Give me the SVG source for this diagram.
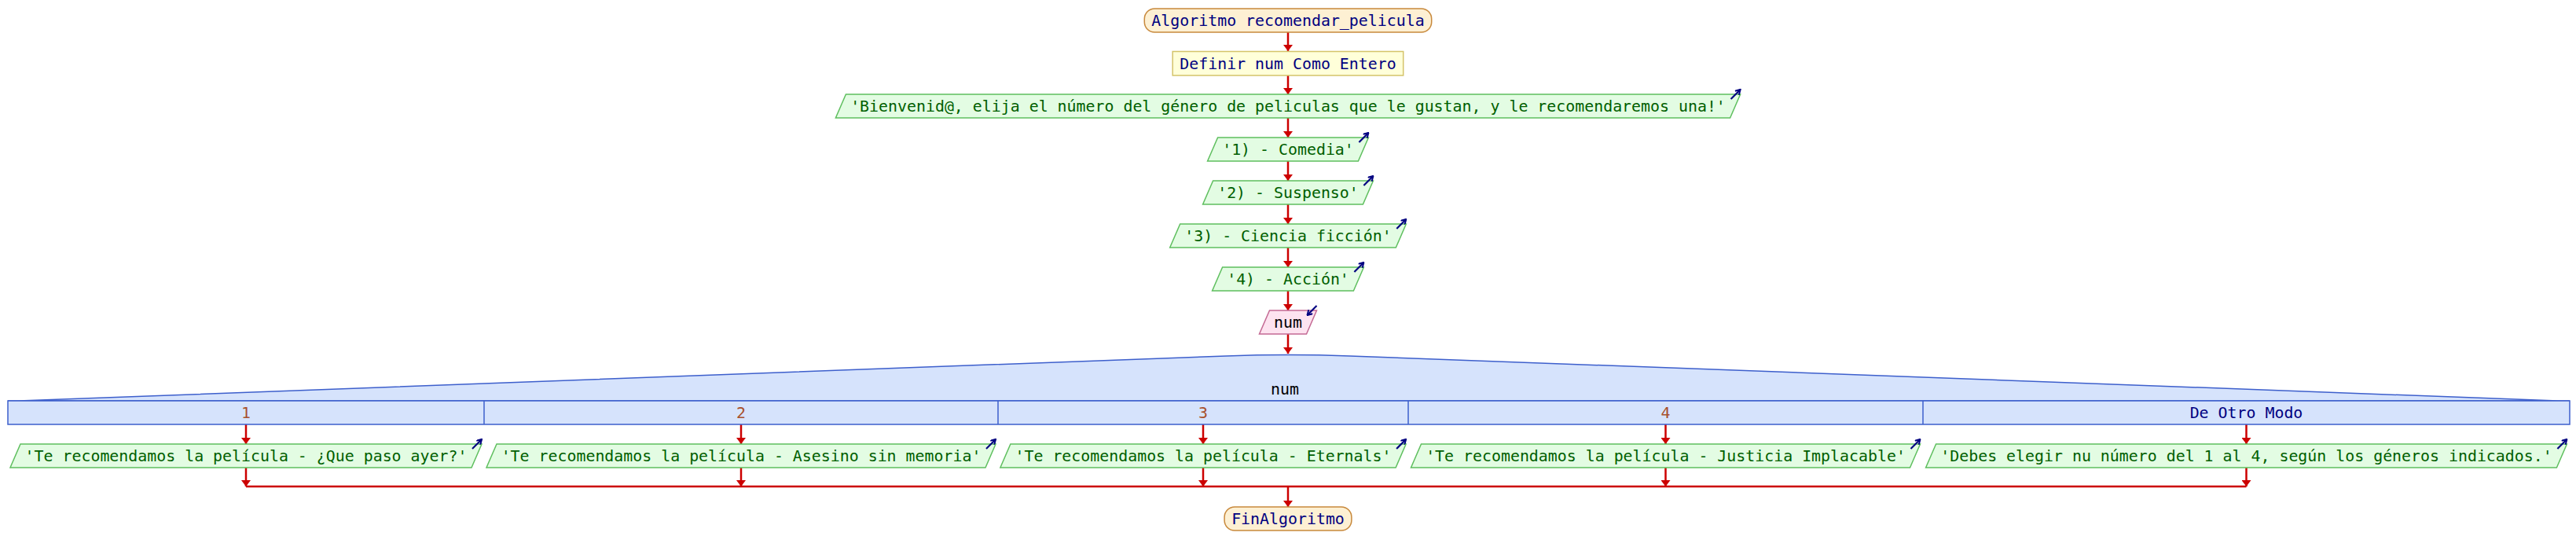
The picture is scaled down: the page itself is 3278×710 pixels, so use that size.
<svg xmlns="http://www.w3.org/2000/svg" width="3278" height="710" viewBox="0 0 3278 710">
<defs>
<marker id="ah" viewBox="0 0 8 12" refX="8" refY="6" markerWidth="8" markerHeight="12" markerUnits="userSpaceOnUse" orient="auto"><path d="M0,0 L8,6 L0,12 z" fill="#cc0000"/></marker>
<marker id="io" viewBox="0 0 8 8" refX="7" refY="4" markerWidth="8" markerHeight="8" markerUnits="userSpaceOnUse" orient="auto"><path d="M1,0.5 L7,4 L1,7.5" fill="none" stroke="#000080" stroke-width="2"/></marker>
<style>
.t{font-family:"DejaVu Sans Mono","Liberation Mono",monospace;font-size:19.9px;text-anchor:middle}
.term{fill:#fdf0d3;stroke:#c8893c;stroke-width:1.5}
.def{fill:#ffffd9;stroke:#d4c46a;stroke-width:1.5}
.out{fill:#e3fce3;stroke:#5fbf5f;stroke-width:1.5}
.inp{fill:#fde3f0;stroke:#c46a94;stroke-width:1.5}
.sw{fill:#d6e3fc;stroke:#3d5fcc;stroke-width:1.5}
.navy{fill:#000080}
.green{fill:#005f00}
.case{fill:#a8502c}
.blk{fill:#000000}
.icon{stroke:#000080;stroke-width:2.2;fill:none;marker-end:url(#io)}
.c{stroke:#cc0000;stroke-width:2.5;fill:none}
.ca{stroke:#cc0000;stroke-width:2.5;fill:none;marker-end:url(#ah)}
</style>
</defs>
<rect width="3278" height="710" fill="#ffffff"/>

<g id="connectors">
<line class="ca" x1="1639" y1="41" x2="1639" y2="65"/>
<line class="ca" x1="1639" y1="96" x2="1639" y2="120"/>
<line class="ca" x1="1639" y1="150" x2="1639" y2="175"/>
<line class="ca" x1="1639" y1="205" x2="1639" y2="230"/>
<line class="ca" x1="1639" y1="260" x2="1639" y2="285"/>
<line class="ca" x1="1639" y1="315" x2="1639" y2="340"/>
<line class="ca" x1="1639" y1="370" x2="1639" y2="395"/>
<line class="ca" x1="1639" y1="425" x2="1639" y2="450"/>
<line class="ca" x1="313" y1="540" x2="313" y2="565"/>
<line class="ca" x1="943" y1="540" x2="943" y2="565"/>
<line class="ca" x1="1531" y1="540" x2="1531" y2="565"/>
<line class="ca" x1="2119.5" y1="540" x2="2119.5" y2="565"/>
<line class="ca" x1="2858.5" y1="540" x2="2858.5" y2="565"/>
<line class="c" x1="313" y1="619" x2="2858.5" y2="619"/>
<line class="ca" x1="313" y1="595" x2="313" y2="619"/>
<line class="ca" x1="943" y1="595" x2="943" y2="619"/>
<line class="ca" x1="1531" y1="595" x2="1531" y2="619"/>
<line class="ca" x1="2119.5" y1="595" x2="2119.5" y2="619"/>
<line class="ca" x1="2858.5" y1="595" x2="2858.5" y2="619"/>
<line class="ca" x1="1639" y1="619" x2="1639" y2="645"/>
</g>

<g id="inicio">
<rect class="term" x="1456.3" y="11" width="365.4" height="30" rx="13" ry="13"/>
<text class="t navy" x="1639" y="33">Algoritmo recomendar_pelicula</text>
</g>

<g id="definir">
<rect class="def" x="1492.2" y="65.5" width="293.5" height="30.5"/>
<text class="t navy" x="1639" y="88">Definir num Como Entero</text>
</g>

<g id="escribir_bienvenida">
<polygon class="out" points="1076.4,120 2214.6,120 2201.6,150 1063.4,150"/>
<text class="t green" x="1639" y="142">'Bienvenid@, elija el número del género de peliculas que le gustan, y le recomendaremos una!'</text>
<line class="icon" x1="2202.6" y1="126" x2="2214.6" y2="114"/>
</g>

<g id="escribir_comedia">
<polygon class="out" points="1549.6,175 1741.4,175 1728.4,205 1536.6,205"/>
<text class="t green" x="1639" y="197">'1) - Comedia'</text>
<line class="icon" x1="1729.4" y1="181" x2="1741.4" y2="169"/>
</g>

<g id="escribir_suspenso">
<polygon class="out" points="1543.6,230 1747.4,230 1734.4,260 1530.6,260"/>
<text class="t green" x="1639" y="252">'2) - Suspenso'</text>
<line class="icon" x1="1735.4" y1="236" x2="1747.4" y2="224"/>
</g>

<g id="escribir_ciencia">
<polygon class="out" points="1501.7,285 1789.3,285 1776.3,315 1488.7,315"/>
<text class="t green" x="1639" y="307">'3) - Ciencia ficción'</text>
<line class="icon" x1="1777.3" y1="291" x2="1789.3" y2="279"/>
</g>

<g id="escribir_accion">
<polygon class="out" points="1555.6,340 1735.4,340 1722.4,370 1542.6,370"/>
<text class="t green" x="1639" y="362">'4) - Acción'</text>
<line class="icon" x1="1723.4" y1="346" x2="1735.4" y2="334"/>
</g>

<g id="leer_num">
<polygon class="inp" points="1615.5,395 1675.5,395 1662.5,425 1602.5,425"/>
<text class="t blk" x="1639" y="417">num</text>
<line class="icon" x1="1675.5" y1="389" x2="1663.5" y2="401"/>
</g>

<g id="segun_num">
<path class="sw" d="M10,510 L24,510 L1560,452.9 Q1639,450 1718,452.9 L3255,510 L3270,510 Z"/>
<rect class="sw" x="10" y="510" width="3260" height="30"/>
<line x1="616" y1="510" x2="616" y2="540" stroke="#3d5fcc" stroke-width="1.5"/>
<line x1="1270" y1="510" x2="1270" y2="540" stroke="#3d5fcc" stroke-width="1.5"/>
<line x1="1792" y1="510" x2="1792" y2="540" stroke="#3d5fcc" stroke-width="1.5"/>
<line x1="2447" y1="510" x2="2447" y2="540" stroke="#3d5fcc" stroke-width="1.5"/>
<text class="t blk" x="1635" y="502">num</text>
<text class="t case" x="313" y="532">1</text>
<text class="t case" x="943" y="532">2</text>
<text class="t case" x="1531" y="532">3</text>
<text class="t case" x="2119.5" y="532">4</text>
<text class="t navy" x="2858.5" y="532">De Otro Modo</text>
</g>

<g id="caso_1">
<polygon class="out" points="26,565 613,565 600,595 13,595"/>
<text class="t green" x="313" y="587">'Te recomendamos la película - ¿Que paso ayer?'</text>
<line class="icon" x1="601" y1="571" x2="613" y2="559"/>
</g>

<g id="caso_2">
<polygon class="out" points="632,565 1267,565 1254,595 619,595"/>
<text class="t green" x="943" y="587">'Te recomendamos la película - Asesino sin memoria'</text>
<line class="icon" x1="1255" y1="571" x2="1267" y2="559"/>
</g>

<g id="caso_3">
<polygon class="out" points="1285.9,565 1789.1,565 1776.1,595 1272.9,595"/>
<text class="t green" x="1531" y="587">'Te recomendamos la película - Eternals'</text>
<line class="icon" x1="1777.1" y1="571" x2="1789.1" y2="559"/>
</g>

<g id="caso_4">
<polygon class="out" points="1808.5,565 2443.5,565 2430.5,595 1795.5,595"/>
<text class="t green" x="2119.5" y="587">'Te recomendamos la película - Justicia Implacable'</text>
<line class="icon" x1="2431.5" y1="571" x2="2443.5" y2="559"/>
</g>

<g id="caso_otro">
<polygon class="out" points="2463.6,565 3266.4,565 3253.4,595 2450.6,595"/>
<text class="t green" x="2858.5" y="587">'Debes elegir nu número del 1 al 4, según los géneros indicados.'</text>
<line class="icon" x1="3254.4" y1="571" x2="3266.4" y2="559"/>
</g>

<g id="fin">
<rect class="term" x="1558.1" y="645" width="161.8" height="30" rx="13" ry="13"/>
<text class="t navy" x="1639" y="667">FinAlgoritmo</text>
</g>
</svg>
